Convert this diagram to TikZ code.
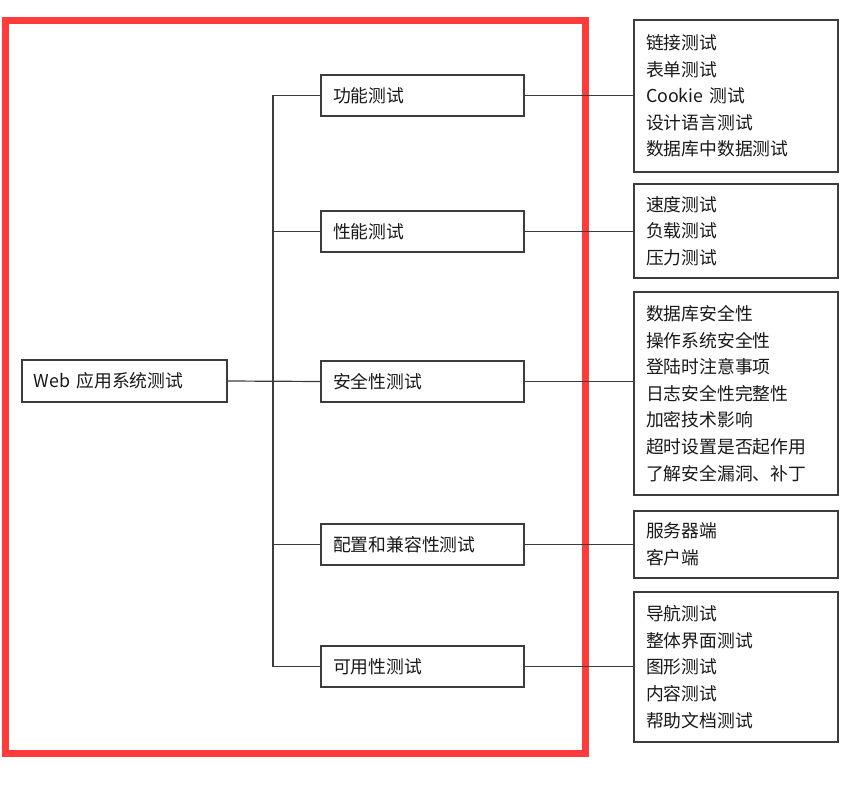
\documentclass[tikz,border=0pt]{standalone}
\usepackage{fontspec}
\setmainfont{Noto Sans CJK SC}
\definecolor{framered}{HTML}{FF3B3B}
\definecolor{linegray}{HTML}{3C3C3C}
\begin{document}
\begin{tikzpicture}[x=1pt,y=-1pt,
  every node/.style={font=\fontsize{17.8}{26.6}\selectfont},
  boxbase/.style={draw=linegray, line width=1.2pt, rectangle, anchor=north west,
    inner ysep=0pt, outer sep=0pt, align=left, text=black!90},
  rootbox/.style={boxbase, inner xsep=12pt, text width=181pt, minimum height=42pt},
  midbox/.style={boxbase, inner xsep=12pt, text width=179pt, minimum height=41pt},
  leafbox/.style={boxbase, inner xsep=12pt, text width=180pt},
  conn/.style={draw=linegray, line width=1.2pt},
  frame/.style={draw=framered, line width=7pt, rectangle, anchor=north west, inner sep=0pt, outer sep=0pt}
]
\useasboundingbox (0,0) rectangle (855,808);
\fill[white] (0,0) rectangle (855,808);

% red frame
\node[frame, minimum width=580pt, minimum height=733pt] (redframe) at (5,20.5) {};

% root
\node[rootbox] (root) at (22,360) {Web 应用系统测试};

% middle boxes
\node[midbox] (m1) at (321,75) {功能测试};
\node[midbox] (m2) at (321,211) {性能测试};
\node[midbox] (m3) at (321,361) {安全性测试};
\node[midbox] (m4) at (321,524) {配置和兼容性测试};
\node[midbox] (m5) at (321,646) {可用性测试};

% leaf boxes
\node[leafbox, minimum height=152pt] (l1) at (634,20) {链接测试\\表单测试\\Cookie 测试\\设计语言测试\\数据库中数据测试};
\node[leafbox, minimum height=94pt] (l2) at (634,184) {速度测试\\负载测试\\压力测试};
\node[leafbox, minimum height=203pt] (l3) at (634,292) {数据库安全性\\操作系统安全性\\登陆时注意事项\\日志安全性完整性\\加密技术影响\\超时设置是否起作用\\了解安全漏洞、补丁};
\node[leafbox, minimum height=67pt] (l4) at (634,511) {服务器端\\客户端};
\node[leafbox, minimum height=150pt] (l5) at (634,592) {导航测试\\整体界面测试\\图形测试\\内容测试\\帮助文档测试};

% trunk
\coordinate (tt) at (273,0);
\draw[conn] (m1.west -| tt) -- (m5.west -| tt);
\draw[conn] (root.east) -- (m3.west);
\draw[conn] (m1.west -| tt) -- (m1.west);
\draw[conn] (m2.west -| tt) -- (m2.west);
\draw[conn] (m4.west -| tt) -- (m4.west);
\draw[conn] (m5.west -| tt) -- (m5.west);

% middle to leaves
\draw[conn] (m1.east) -- (m1.east -| l1.west);
\draw[conn] (m2.east) -- (m2.east -| l2.west);
\draw[conn] (m3.east) -- (m3.east -| l3.west);
\draw[conn] (m4.east) -- (m4.east -| l4.west);
\draw[conn] (m5.east) -- (m5.east -| l5.west);
\end{tikzpicture}
\end{document}
